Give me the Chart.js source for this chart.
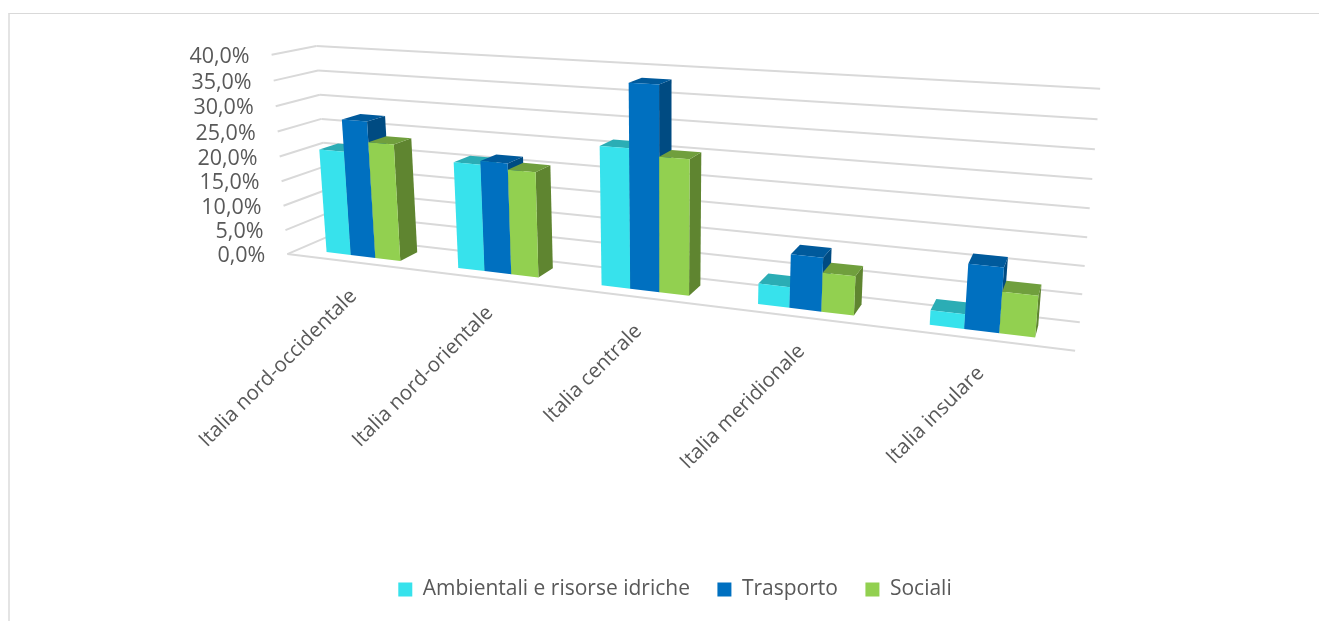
<!DOCTYPE html>
<html>
<head>
<meta charset="utf-8">
<style>
  html, body { margin: 0; padding: 0; background: #fff; overflow: hidden; }
  #frame { position: absolute; left: 8px; top: 13px; width: 1311px; height: 608px; box-sizing: border-box;
           border-top: 1px solid #d9d9d9; border-left: 2px solid #e4e4e4; }
  #chart { position: absolute; left: 0; top: 0; }
</style>
</head>
<body>
<div id="frame"></div>
<canvas id="chart" width="1319" height="621"></canvas>
<script src="https://cdn.jsdelivr.net/npm/chart.js@4"></script>
<script>
const categories = ['Italia nord-occidentale', 'Italia nord-orientale', 'Italia centrale', 'Italia meridionale', 'Italia insulare'];
const ambientali = [21.1, 20.9, 26.3, 3.8, 2.6];
const trasporto  = [27.5, 21.6, 38.1, 9.8, 11.4];
const sociali    = [23.4, 20.4, 25.2, 7.1, 7.2];

const textColor = '#595959';
const gridColor = '#d9d9d9';
const fontFamily = '"Open Sans", sans-serif';

// front / top / side shades per series
const shades = [
  { front: '#37E2EC', top: '#2BADB5', side: '#1F9AA1' },
  { front: '#0070C0', top: '#005A9C', side: '#004B82' },
  { front: '#92D050', top: '#709F3D', side: '#5F8530' },
];

// where the corners of the 3D box land on the page: [u, v, w, x, y]
// u = along categories, v = value, w = depth (0 front, 1 back wall)
const boxCorners = [
  [0, 0, 0, 289, 253],
  [0, 1, 0, 270, 55],
  [1, 0, 0, 1075, 352],
  [0, 0, 1, 328, 237],
  [0, 1, 1, 318, 45.7],
  [1, 0, 1, 1080, 321],
  [1, 1, 1, 1100, 89],
];
const barDepth = [0.28, 0.72];

// least squares fit of the perspective matrix from the corners above
function fitProjection(pts) {
  const rows = [];
  pts.forEach(([u, v, w, x, y]) => {
    rows.push([u, v, w, 1, 0, 0, 0, 0, -x * u, -x * v, -x * w, x]);
    rows.push([0, 0, 0, 0, u, v, w, 1, -y * u, -y * v, -y * w, y]);
  });
  const n = 11;
  const A = [];
  for (let i = 0; i < n; i++) {
    A.push([]);
    for (let j = 0; j <= n; j++) {
      A[i].push(rows.reduce((s, r) => s + r[i] * r[j], 0));
    }
  }
  for (let i = 0; i < n; i++) {
    let best = i;
    for (let k = i + 1; k < n; k++) if (Math.abs(A[k][i]) > Math.abs(A[best][i])) best = k;
    [A[i], A[best]] = [A[best], A[i]];
    for (let k = 0; k < n; k++) {
      if (k === i) continue;
      const f = A[k][i] / A[i][i];
      for (let j = i; j <= n; j++) A[k][j] -= f * A[i][j];
    }
  }
  return A.map((r, i) => r[n] / r[i]);
}
const m = fitProjection(boxCorners);

function project(u, v, w) {
  const d = m[8] * u + m[9] * v + m[10] * w + 1;
  return [(m[0] * u + m[1] * v + m[2] * w + m[3]) / d,
          (m[4] * u + m[5] * v + m[6] * w + m[7]) / d];
}

function poly(ctx, pts, color) {
  ctx.beginPath();
  pts.forEach((p, i) => i ? ctx.lineTo(p[0], p[1]) : ctx.moveTo(p[0], p[1]));
  ctx.closePath();
  ctx.fillStyle = color;
  ctx.fill();
}

function line(ctx, a, b) {
  ctx.beginPath();
  ctx.moveTo(a[0], a[1]);
  ctx.lineTo(b[0], b[1]);
  ctx.stroke();
}

// draws the whole perspective view from the chart's own scales and bar elements
const perspectivePlugin = {
  id: 'perspective',
  beforeDatasetsDraw(chart) {
    const { ctx, chartArea: area, scales } = chart;
    const uOf = px => (px - area.left) / area.width;
    const vOf = py => (area.bottom - py) / area.height;

    ctx.save();

    // walls
    ctx.strokeStyle = gridColor;
    ctx.lineWidth = 2;
    scales.y.ticks.forEach(t => {
      const v = vOf(scales.y.getPixelForValue(t.value));
      line(ctx, project(0, v, 0), project(0, v, 1));
      line(ctx, project(0, v, 1), project(1, v, 1));
    });
    line(ctx, project(0, 0, 0), project(1, 0, 0));

    // value labels follow the front edge of the left wall
    ctx.fillStyle = textColor;
    ctx.font = '21.5px ' + fontFamily;
    ctx.textAlign = 'right';
    ctx.textBaseline = 'middle';
    scales.y.ticks.forEach(t => {
      const p = project(0, vOf(scales.y.getPixelForValue(t.value)), 0);
      ctx.fillText(t.label, p[0] - 22, p[1] + 2);
    });

    // category labels
    ctx.font = '20.5px ' + fontFamily;
    categories.forEach((c, i) => {
      const p = project(uOf(scales.x.getPixelForValue(i)), 0, 0);
      ctx.save();
      ctx.translate(p[0] + 2, p[1] + 31);
      ctx.rotate(-Math.PI / 4);
      ctx.fillText(c, 0, 0);
      ctx.restore();
    });

    // bars, group by group so the right hand ones overlap
    categories.forEach((c, i) => {
      chart.data.datasets.forEach((ds, s) => {
        const el = chart.getDatasetMeta(s).data[i];
        const u0 = uOf(el.x - el.width / 2);
        const u1 = uOf(el.x + el.width / 2);
        const v = vOf(el.y);
        const [w0, w1] = barDepth;
        const col = shades[s];
        poly(ctx, [project(u1, 0, w0), project(u1, 0, w1), project(u1, v, w1), project(u1, v, w0)], col.side);
        poly(ctx, [project(u0, v, w0), project(u1, v, w0), project(u1, v, w1), project(u0, v, w1)], col.top);
        poly(ctx, [project(u0, 0, w0), project(u1, 0, w0), project(u1, v, w0), project(u0, v, w0)], col.front);
      });
    });

    ctx.restore();
    return false; // the flat bars are not wanted
  },
};

new Chart(document.getElementById('chart'), {
  type: 'bar',
  data: {
    labels: categories,
    datasets: [
      { label: 'Ambientali e risorse idriche', data: ambientali, backgroundColor: shades[0].front },
      { label: 'Trasporto', data: trasporto, backgroundColor: shades[1].front },
      { label: 'Sociali', data: sociali, backgroundColor: shades[2].front },
    ],
  },
  options: {
    responsive: false,
    animation: false,
    categoryPercentage: 0.57,
    barPercentage: 1,
    layout: { padding: { bottom: 11, left: 31 } },
    plugins: {
      tooltip: { enabled: false },
      legend: {
        position: 'bottom',
        labels: {
          color: textColor,
          font: { size: 21, family: fontFamily },
          boxWidth: 14,
          boxHeight: 14,
          padding: 27.5,
        },
      },
    },
    scales: {
      x: {
        ticks: { display: false },
        grid: { display: false },
        border: { display: false },
      },
      y: {
        min: 0,
        max: 40,
        ticks: {
          display: false,
          stepSize: 5,
          callback: v => v.toFixed(1).replace('.', ',') + '%',
        },
        grid: { display: false },
        border: { display: false },
      },
    },
  },
  plugins: [perspectivePlugin],
});
</script>
</body>
</html>
